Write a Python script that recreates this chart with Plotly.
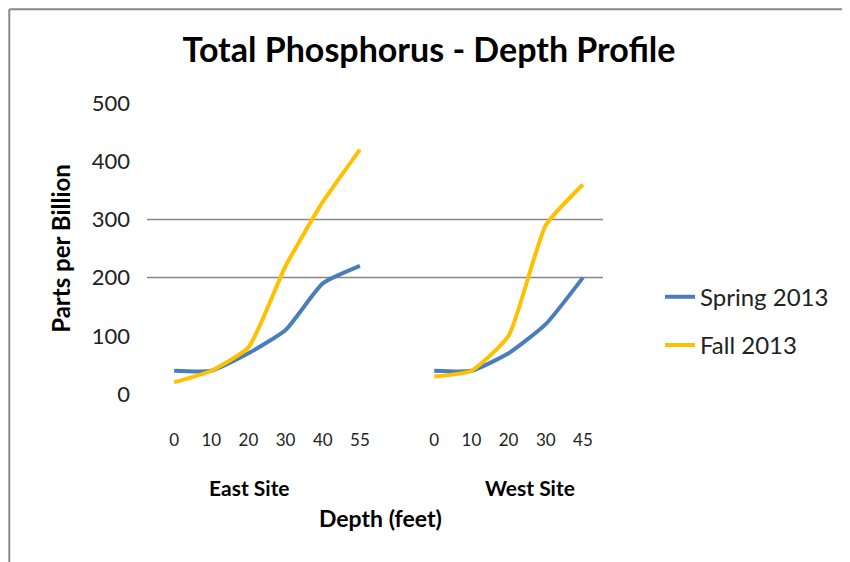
import plotly.graph_objects as go

# categories (depth in feet) per site
east_depths = ["0", "10", "20", "30", "40", "55"]
west_depths = ["0", "10", "20", "30", "45"]
sites = ["East Site", "West Site"]

# total phosphorus, parts per billion
east_spring = [40, 40, 70, 110, 190, 220]
east_fall = [20, 40, 80, 220, 330, 420]
west_spring = [40, 40, 70, 120, 200]
west_fall = [30, 40, 100, 290, 360]

series = ["Spring 2013", "Fall 2013"]
colors = ["#4A7EBB", "#FFC000"]
y_ticks = [0, 100, 200, 300, 400, 500]
grid_vals = [200, 300]

FONT = "Lato, Calibri, sans-serif"

# category slots: one empty slot between the two sites
east_x = list(range(len(east_depths)))
west_x = [len(east_depths) + 1 + i for i in range(len(west_depths))]
all_x = east_x + [None] + west_x
tick_pos = east_x + west_x
tick_txt = east_depths + west_depths

fig = go.Figure()

for name, color, e_vals, w_vals in zip(series, colors,
                                       [east_spring, east_fall],
                                       [west_spring, west_fall]):
    fig.add_trace(go.Scatter(
        x=all_x,
        y=e_vals + [None] + w_vals,
        mode="lines",
        name=name,
        legendgroup=name,
        line=dict(color=color, width=4, shape="spline", smoothing=0.5),
        connectgaps=False,
    ))

# only two horizontal gridlines are drawn in the original
for g in grid_vals:
    fig.add_shape(type="line", xref="paper", yref="y", x0=0, x1=1, y0=g, y1=g,
                  line=dict(color="#868686", width=1.5), layer="below")

# frame (left and top edges only)
fig.add_shape(type="line", xref="paper", yref="paper", x0=-0.302, x1=-0.302,
              y0=-0.6, y1=1.322, line=dict(color="#888888", width=2))
fig.add_shape(type="line", xref="paper", yref="paper", x0=-0.302, x1=1.6,
              y0=1.322, y1=1.322, line=dict(color="#888888", width=2))

# site labels under the depth ticks
site_pos = [2.04, 9.57]
for s, xp in zip(sites, site_pos):
    fig.add_annotation(x=xp, xref="x", y=-0.32, yref="paper", text="<b>%s</b>" % s,
                       showarrow=False, font=dict(family=FONT, size=21, color="#000000"),
                       xanchor="center", yanchor="middle")

fig.add_annotation(x=0.513, xref="paper", y=-0.427, yref="paper", text="<b>Depth (feet)</b>",
                   showarrow=False, font=dict(family=FONT, size=23, color="#000000"),
                   xanchor="center", yanchor="middle")

# page body adds an 8px offset, so the figure is drawn 8px smaller
fig.update_layout(
    width=842,
    height=554,
    margin=dict(l=139, r=247, t=95, b=168),
    paper_bgcolor="white",
    plot_bgcolor="white",
    font=dict(family=FONT, color="#000000"),
    title=dict(text="<b>Total Phosphorus - Depth Profile</b>", x=0.5, xanchor="center",
               y=0.924, yanchor="middle", font=dict(family=FONT, size=34, color="#000000")),
    xaxis=dict(
        range=[-0.73, 11.54],
        tickmode="array",
        tickvals=tick_pos,
        ticktext=tick_txt,
        showgrid=False,
        zeroline=False,
        showline=False,
        ticks="",
        automargin=False,
        ticklabelstandoff=34,
        tickfont=dict(family=FONT, size=17, color="#222222"),
    ),
    yaxis=dict(
        range=[0, 500],
        tickvals=y_ticks,
        showgrid=False,
        zeroline=False,
        showline=False,
        ticks="",
        automargin=False,
        ticklabelstandoff=16,
        tickfont=dict(family=FONT, size=22, color="#222222"),
        title=dict(text="<b>Parts per Billion</b>", standoff=14,
                   font=dict(family=FONT, size=24, color="#000000")),
    ),
    legend=dict(
        x=1.125, xanchor="left", y=0.25, yanchor="middle",
        font=dict(family=FONT, size=24, color="#222222"),
        tracegroupgap=14,
        bgcolor="rgba(0,0,0,0)",
    ),
)

fig.write_html("out.html")
